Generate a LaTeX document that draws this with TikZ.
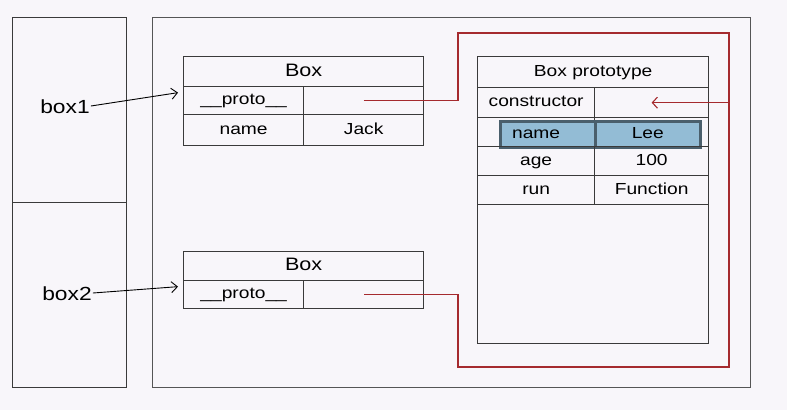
\documentclass[tikz,border=0pt]{standalone}
\usepackage{fontspec}
\setmainfont[FakeStretch=1.2]{Liberation Sans}
\usetikzlibrary{arrows.meta}
\definecolor{bgcol}{HTML}{F8F6FA}
\definecolor{linecol}{HTML}{3A3A3A}
\definecolor{framecol}{HTML}{555555}
\definecolor{linkcol}{HTML}{A52A2E}
\definecolor{hlfill}{HTML}{93BCD5}
\definecolor{hldraw}{HTML}{4A5F6C}

\begin{document}
\begin{tikzpicture}[x=1pt, y=-1pt,
    cell/.style={rectangle, draw=linecol, line width=1.3pt, inner sep=0pt, anchor=north west, minimum height=30pt, text height=11.5pt, text depth=3.5pt, font=\fontsize{16}{18}\selectfont},
    head/.style={cell, text height=13pt, text depth=4pt, font=\fontsize{18}{20}\selectfont},
    frame/.style={rectangle, draw=framecol, line width=1.3pt, inner sep=0pt, anchor=north west},
    varname/.style={inner sep=1pt, text height=14pt, text depth=0pt, font=\fontsize{19}{21}\selectfont},
    celltext/.style={inner sep=0pt, text height=11.5pt, text depth=3.5pt, font=\fontsize{16}{18}\selectfont},
    hilite/.style={rectangle, fill=hlfill, draw=hldraw, line width=2.6pt, inner sep=0pt, anchor=north west, minimum height=26pt},
    ptr/.style={-{Straight Barb[length=6pt, width=11pt]}, line width=0.9pt},
    link/.style={draw=linkcol, line width=1.4pt},
    linkarrow/.style={draw=linkcol, -{Straight Barb[length=5pt, width=11pt]}, line width=1.1pt}
]
    \fill[bgcol] (0,0) rectangle (787,410);
    \useasboundingbox (0,0) rectangle (787,410);

    % Stack
    \node[frame, draw=linecol, line width=1pt, minimum width=114pt, minimum height=185pt] (stack1) at (12,17) {};
    \node[frame, draw=linecol, line width=1pt, minimum width=114pt, minimum height=185pt] (stack2) at (12,202) {};
    \node[varname] (box1) at (65,106) {box1};
    \node[varname] (box2) at (67,293) {box2};

    % Heap
    \node[frame, minimum width=598pt, minimum height=370pt] (heap) at (152,17) {};

    % box1
    \node[head, minimum width=240pt] (b1head) at (183,56) {Box};
    \node[cell, minimum width=120pt, minimum height=28pt] (b1key) at (183,86) {\_\_proto\_\_};
    \node[cell, minimum width=120pt, minimum height=28pt] (b1val) at (303,86) {};
    \node[cell, minimum width=120pt, minimum height=31pt] (b1namekey) at (183,114) {name};
    \node[cell, minimum width=120pt, minimum height=31pt] (b1nameval) at (303,114) {Jack};

    % box2
    \node[head, minimum width=240pt, minimum height=29pt] (b2head) at (183,251) {Box};
    \node[cell, minimum width=120pt, minimum height=28pt] (b2key) at (183,280) {\_\_proto\_\_};
    \node[cell, minimum width=120pt, minimum height=28pt] (b2val) at (303,280) {};

    % Prototyp
    \node[cell, minimum width=231pt, minimum height=31pt] (phead) at (477,56) {Box prototype};
    \node[cell, minimum width=117pt] (pctorkey) at (477,87) {constructor};
    \node[cell, minimum width=114pt] (pctorval) at (594,87) {};
    \node[cell, minimum width=117pt, minimum height=29pt] (pnamekey) at (477,117) {};
    \node[cell, minimum width=114pt, minimum height=29pt] (pnameval) at (594,117) {};
    \node[hilite, minimum width=95pt] (hlkey) at (499,120) {};
    \node[hilite, minimum width=105pt] (hlval) at (594,120) {};
    \node[celltext] (pnametext) at (pnamekey |- hlval.center) {name};
    \node[celltext] (pleetext) at (hlval.center) {Lee};
    \node[cell, minimum width=117pt, minimum height=29pt] (pagekey) at (477,146) {age};
    \node[cell, minimum width=114pt, minimum height=29pt] (pageval) at (594,146) {100};
    \node[cell, minimum width=117pt, minimum height=29pt] (prunkey) at (477,175) {run};
    \node[cell, minimum width=114pt, minimum height=29pt] (prunval) at (594,175) {Function};
    \node[cell, minimum width=231pt, minimum height=139pt] (prest) at (477,204) {};

    % Zeiger
    \draw[ptr] (box1.east) -- ([xshift=-5pt, yshift=8pt]b1key.west);
    \draw[ptr] (box2.east) -- ([xshift=-5pt, yshift=8pt]b2key.west);

    % __proto__ Verweise
    \coordinate (loopnw) at (458,33);
    \coordinate (loopne) at (729,33);
    \coordinate (loopse) at (729,367);
    \coordinate (loopsw) at (458,367);
    \draw[link] (b1val.center) -| (loopnw) -- (loopne) -- (loopse) -- (loopsw) |- (b2val.center);
    \draw[linkarrow] (loopne |- pctorval.center) -- (pctorval.center);
\end{tikzpicture}
\end{document}
